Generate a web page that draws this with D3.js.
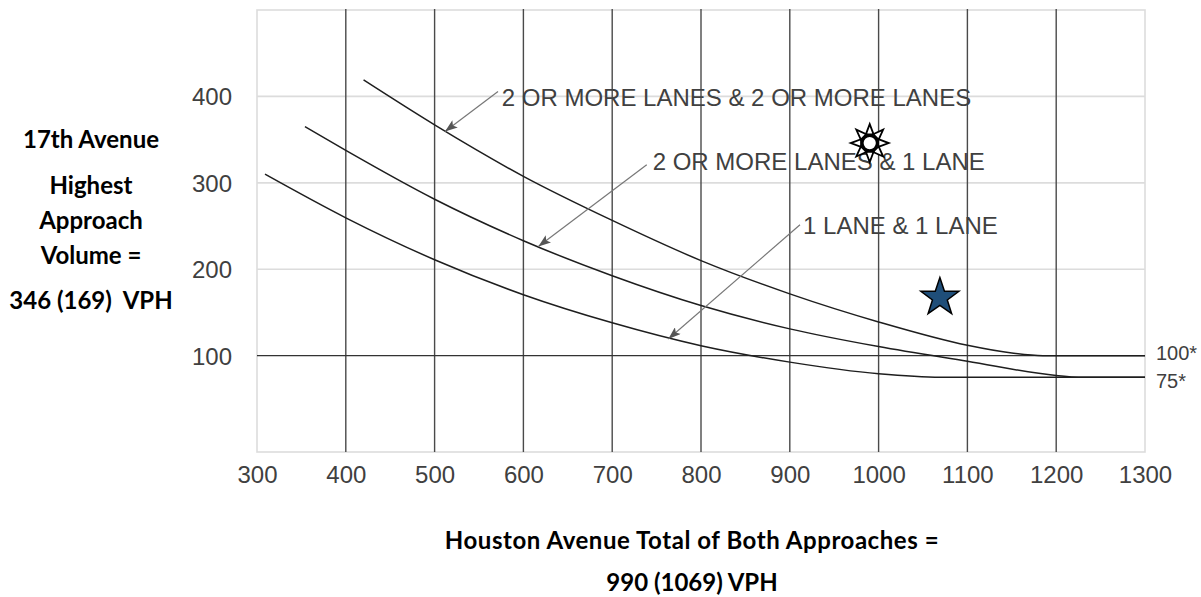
<!DOCTYPE html>
<html><head><meta charset="utf-8">
<script src="https://cdn.jsdelivr.net/npm/d3@7/dist/d3.min.js"></script>
<style>body{margin:0;background:#fff} svg{display:block}</style>
</head><body>
<svg id="chart" width="1201" height="597"></svg>
<script>
// ---------- data ----------
const xTicks = [300, 400, 500, 600, 700, 800, 900, 1000, 1100, 1200, 1300];
const yTicks = [100, 200, 300, 400];
const xGridDark = [400, 500, 600, 700, 800, 900, 1000, 1100, 1200];
const yGridLight = [200, 300, 400];

const curveTwoTwo = [[420, 419], [500, 367], [600, 307.5], [700, 256.5], [800, 210], [900, 171.5], [1000, 139], [1100, 112], [1150, 103], [1185, 100], [1300, 100]];
const curveTwoOne = [[354, 365], [400, 337.5], [500, 281], [600, 233], [700, 192.5], [800, 158], [900, 131], [1000, 110.5], [1100, 93.5], [1200, 77], [1225, 75], [1300, 75]];
const curveOneOne = [[309, 310], [400, 259.5], [500, 211], [600, 170.5], [700, 138], [800, 111.5], [900, 92.5], [1000, 79], [1070, 75], [1300, 75]];

const curveNames = ["2 OR MORE LANES & 2 OR MORE LANES", "2 OR MORE LANES & 1 LANE", "1 LANE & 1 LANE"];
const labelAnchors = [[575.6, 388.4], [745.6, 314.8], [914.9, 240.5]];
const arrowStarts = [[571.4, 405.8], [738.9, 321], [911.5, 251.5]];
const arrowTips = [[511.7, 359.5], [616.8, 226.4], [763.2, 119.3]];

const minimumValues = [100, 75];
const minimumLabels = ["100*", "75*"];

const existingPoint = [990, 346];   // sun symbol
const projectedPoint = [1069, 169]; // star symbol

const yTitleLines = ["17th Avenue", "Highest", "Approach", "Volume =", "346 (169)  VPH"];
const xTitleLines = ["Houston Avenue Total of Both Approaches =", "990 (1069) VPH"];

// ---------- layout ----------
const svg = d3.select("#chart");
const frame = {left: 257, right: 1145, top: 10, bottom: 452};
const x = d3.scaleLinear().domain([300, 1300]).range([frame.left, frame.right]);
const y = d3.scaleLinear().domain([-11.5, 500]).range([frame.bottom, frame.top]);

const tickFont = "'Liberation Sans', Arial, sans-serif";
const textCol = "#404040";

// light grid + frame
const g = svg.append("g");
g.selectAll("line.hgrid").data(yGridLight).join("line")
  .attr("x1", frame.left).attr("x2", frame.right)
  .attr("y1", d => y(d)).attr("y2", d => y(d))
  .attr("stroke", "#dcdcdc").attr("stroke-width", 1.6);
g.append("rect").attr("x", frame.left).attr("y", frame.top)
  .attr("width", frame.right - frame.left).attr("height", frame.bottom - frame.top)
  .attr("fill", "none").attr("stroke", "#dcdcdc").attr("stroke-width", 1.6);

// dark vertical grid
g.selectAll("line.vgrid").data(xGridDark).join("line")
  .attr("x1", d => x(d)).attr("x2", d => x(d))
  .attr("y1", frame.top - 1).attr("y2", frame.bottom)
  .attr("stroke", "#4a4a4a").attr("stroke-width", 1.4);

// 100 line
g.append("line").attr("x1", frame.left).attr("x2", frame.right)
  .attr("y1", y(100)).attr("y2", y(100))
  .attr("stroke", "#333").attr("stroke-width", 1.4);

// axes (labels only)
const xAxis = d3.axisBottom(x).tickValues(xTicks).tickSize(0).tickPadding(0).tickFormat(d3.format("d"));
const xa = svg.append("g").attr("transform", `translate(0,${frame.bottom})`).call(xAxis);
xa.select(".domain").remove();
xa.selectAll("text").attr("y", 30.5).attr("dy", 0)
  .attr("font-family", tickFont).attr("font-size", 24).attr("fill", textCol);

const yAxis = d3.axisLeft(y).tickValues(yTicks).tickSize(0).tickPadding(0).tickFormat(d3.format("d"));
const ya = svg.append("g").attr("transform", `translate(${frame.left - 25},0)`).call(yAxis);
ya.select(".domain").remove();
ya.selectAll("text").attr("x", 0).attr("dy", "0.35em")
  .attr("font-family", tickFont).attr("font-size", 24).attr("fill", textCol);

// curves
const line = d3.line().x(d => x(d[0])).y(d => y(d[1])).curve(d3.curveMonotoneX);
svg.selectAll("path.curve").data([curveTwoTwo, curveTwoOne, curveOneOne]).join("path")
  .attr("d", line).attr("fill", "none").attr("stroke", "#1e1e1e").attr("stroke-width", 1.5);

// arrows
svg.append("defs").append("marker")
  .attr("id", "ah").attr("viewBox", "0 0 14 10").attr("refX", 14).attr("refY", 5)
  .attr("markerUnits", "userSpaceOnUse").attr("markerWidth", 14).attr("markerHeight", 9)
  .attr("orient", "auto")
  .append("path").attr("d", "M0,0 L14,5 L0,10 L3,5 Z").attr("fill", "#555");
svg.selectAll("line.arrow").data(arrowStarts).join("line")
  .attr("x1", d => x(d[0])).attr("y1", d => y(d[1]))
  .attr("x2", (d, i) => x(arrowTips[i][0])).attr("y2", (d, i) => y(arrowTips[i][1]))
  .attr("stroke", "#777").attr("stroke-width", 1.2).attr("marker-end", "url(#ah)");

// curve labels
svg.selectAll("text.clabel").data(curveNames).join("text")
  .attr("x", (d, i) => x(labelAnchors[i][0])).attr("y", (d, i) => y(labelAnchors[i][1]))
  .attr("font-family", tickFont).attr("font-size", 24).attr("fill", textCol)
  .text(d => d);

// minimum labels
const minOffsets = [4.3, 10.5];
svg.selectAll("text.minlab").data(minimumLabels).join("text")
  .attr("x", frame.right + 11).attr("y", (d, i) => y(minimumValues[i]) + minOffsets[i])
  .attr("font-family", tickFont).attr("font-size", 20).attr("fill", textCol)
  .text(d => d);

// sun symbol
const sun = svg.append("g").attr("transform", `translate(${x(existingPoint[0])},${y(existingPoint[1])})`);
d3.range(8).forEach(k => {
  const a = k * Math.PI / 4;
  const tip = [Math.sin(a) * 19, -Math.cos(a) * 19];
  const b1 = [Math.sin(a - 0.42) * 9.5, -Math.cos(a - 0.42) * 9.5];
  const b2 = [Math.sin(a + 0.42) * 9.5, -Math.cos(a + 0.42) * 9.5];
  sun.append("path").attr("d", `M${b1}L${tip}L${b2}Z`)
    .attr("fill", "#fff").attr("stroke", "#000").attr("stroke-width", 1.8).attr("stroke-linejoin", "miter");
});
sun.append("circle").attr("r", 7.5).attr("fill", "#fff").attr("stroke", "#000").attr("stroke-width", 2.8);

// star symbol
const starPts = d3.range(10).map(k => {
  const r = k % 2 === 0 ? 20 : 7.8;
  const a = k * Math.PI / 5;
  return [Math.sin(a) * r, -Math.cos(a) * r];
});
svg.append("path")
  .attr("transform", `translate(${x(projectedPoint[0])},${y(projectedPoint[1]) + 1.5})`)
  .attr("d", "M" + starPts.join("L") + "Z")
  .attr("fill", "#1f4e79").attr("stroke", "#000").attr("stroke-width", 1.5).attr("stroke-linejoin", "miter");

// titles
const titleFont = "Lato, 'Open Sans', sans-serif";
const yTitleBase = [148.3, 194, 229.3, 264, 309.3];
svg.selectAll("text.ytitle").data(yTitleLines).join("text")
  .attr("x", 91).attr("y", (d, i) => yTitleBase[i])
  .attr("text-anchor", "middle").style("white-space", "pre")
  .attr("font-family", titleFont).attr("font-weight", 700).attr("font-size", 24).attr("fill", "#000")
  .text(d => d);
const xTitleBase = [549, 591];
const xTitleSpacing = [0.55, 0];
svg.selectAll("text.xtitle").data(xTitleLines).join("text")
  .attr("x", 692).attr("y", (d, i) => xTitleBase[i])
  .attr("text-anchor", "middle").attr("letter-spacing", (d, i) => xTitleSpacing[i])
  .attr("font-family", titleFont).attr("font-weight", 700).attr("font-size", 24).attr("fill", "#000")
  .text(d => d);
</script>
</body></html>
